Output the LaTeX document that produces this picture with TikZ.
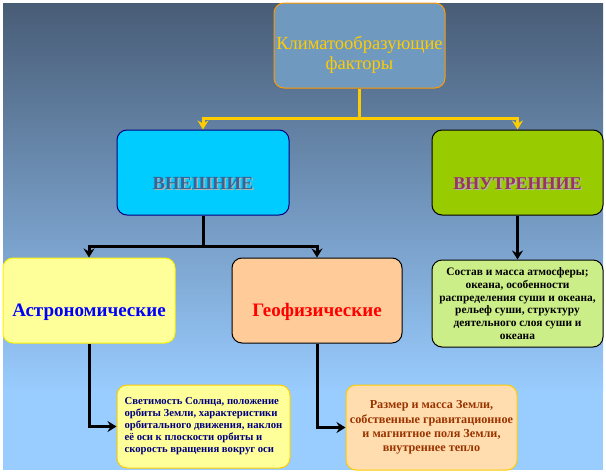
\documentclass[tikz,border=0pt]{standalone}
\usepackage{fontspec}
\setmainfont{Liberation Serif}
\usetikzlibrary{arrows.meta}
\definecolor{bgTop}{HTML}{485C76}
\definecolor{bgMid}{HTML}{6B8FB6}
\definecolor{bgBot}{HTML}{99CCFF}
\definecolor{topFill}{HTML}{7099C0}
\definecolor{topLine}{HTML}{FF9900}
\definecolor{yel}{HTML}{FFCC00}
\definecolor{vnFill}{HTML}{00CCFF}
\definecolor{vnLine}{HTML}{000080}
\definecolor{vnText}{HTML}{336699}
\definecolor{vtFill}{HTML}{99CC00}
\definecolor{vtText}{HTML}{993366}
\definecolor{shadowGray}{HTML}{B2B2B2}
\definecolor{astFill}{HTML}{FFFF99}
\definecolor{geoFill}{HTML}{FFCC99}
\definecolor{grFill}{HTML}{CCEE88}
\definecolor{brFill}{HTML}{FFDDAF}
\definecolor{brText}{HTML}{993300}
\definecolor{navy}{HTML}{000080}
\newcommand\shtext[3]{\makebox[0pt][l]{\kern1.5pt\raisebox{-1.5pt}{\color{#2}#3}}{\color{#1}#3}}
\tikzset{
  box/.style={draw, rounded corners=10pt, line width=1pt, inner sep=0pt},
  yconn/.style={draw=yel, line width=3pt},
  bconn/.style={draw=black, line width=3pt},
  ytip/.style={-{Stealth[length=9pt,width=11pt,inset=3pt]}},
  btip/.style={-{Stealth[length=9pt,width=11pt,inset=3pt]}},
  small/.style={font=\fontsize{10.5}{12}\selectfont\bfseries, align=center},
}
\begin{document}
\begin{tikzpicture}[x=1pt,y=-1pt]
\useasboundingbox (0,0) rectangle (606,474);
\fill[white] (0,0) rectangle (606,474);
\shade[top color=bgTop, middle color=bgMid, bottom color=bgBot] (3,3) rectangle (603,392);
\fill[bgBot] (3,391) rectangle (603,470);

% boxes
\node[box, draw=topLine, fill=topFill, minimum width=171pt, minimum height=85pt] (top) at (359.5,45.5) {};
\node[text=yel, font=\fontsize{18.5}{20}\selectfont, align=center] (toptxt) at (359.5,55) {Климатообразующие\\факторы};

\node[box, draw=vnLine, fill=vnFill, minimum width=172pt, minimum height=85pt] (vn) at (203,172.5) {};
\node[font=\fontsize{18.5}{18}\selectfont\bfseries] (vntxt) at (203,184) {\shtext{vnText}{shadowGray}{ВНЕШНИЕ}};

\node[box, draw=black, fill=vtFill, minimum width=171pt, minimum height=85pt] (vt) at (517.5,172.5) {};
\node[font=\fontsize{18}{18}\selectfont\bfseries] (vttxt) at (517.5,184) {\shtext{vtText}{shadowGray}{ВНУТРЕННИЕ}};

\node[box, draw=yellow, fill=astFill, minimum width=172pt, minimum height=85pt] (ast) at (89,300.5) {};
\node[text=blue, font=\fontsize{19}{19}\selectfont\bfseries] (asttxt) at (89,312) {Астрономические};

\node[box, draw=black, fill=geoFill, minimum width=170pt, minimum height=85pt] (geo) at (317,300.5) {};
\node[text=red, font=\fontsize{19}{19}\selectfont\bfseries] (geotxt) at (317,312) {Геофизические};

\node[box, draw=black, fill=grFill, minimum width=171pt, minimum height=87pt, small, font=\fontsize{11.4}{12.7}\selectfont\bfseries] (gr) at (517.5,303.5)
 {Состав и масса атмосферы;\\океана, особенности\\распределения суши и океана,\\рельеф суши, структуру\\деятельного слоя суши и\\океана};

\node[box, draw=yel, fill=astFill, minimum width=173pt, minimum height=83pt, small, font=\fontsize{10.7}{12}\selectfont\bfseries, text=navy, align=left] (bl) at (203.5,426.5)
 {Светимость Солнца, положение\\орбиты Земли, характеристики\\орбитального движения, наклон\\её оси к плоскости орбиты и\\скорость  вращения вокруг оси};

\node[box, draw=yel, fill=brFill, minimum width=171pt, minimum height=85pt, small, font=\fontsize{12.2}{14.3}\selectfont\bfseries, text=brText] (br) at (431.5,427.5)
 {Размер и масса Земли,\\собственные гравитационное\\и магнитное поля Земли,\\внутреннее тепло};

% connectors
\coordinate (yj) at (359.5,118);
\draw[yconn] (top.south) -- (yj);
\draw[yconn, ytip] (yj) -| (vn.north);
\draw[yconn, ytip] (yj) -| (vt.north);

\coordinate (bj) at (203,246);
\draw[bconn] (vn.south) -- (bj);
\draw[bconn, btip] (bj) -| (ast.north);
\draw[bconn, btip] (bj) -| (geo.north);
\draw[bconn, btip] (vt.south) -- (gr.north);
\draw[bconn, btip] (ast.south) |- (bl.west);
\draw[bconn, btip] (geo.south) |- (br.west);
\end{tikzpicture}
\end{document}
